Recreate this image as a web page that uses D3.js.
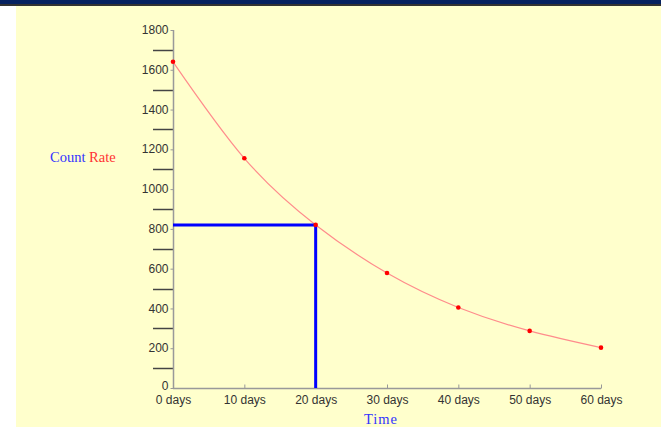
<!DOCTYPE html>
<html><head><meta charset="utf-8">
<script src="https://cdn.jsdelivr.net/npm/d3@7"></script>
<style>html,body{margin:0;padding:0;background:#fff;}svg{display:block;}</style>
</head><body>
<svg id="c" width="661" height="427"></svg>
<script>
const days = [0, 10, 20, 30, 40, 50, 60];
const countRate = [1640, 1155, 820, 578, 405, 287, 203];
const yTicks = [0, 200, 400, 600, 800, 1000, 1200, 1400, 1600, 1800];
const yMinorTicks = [100, 300, 500, 700, 900, 1100, 1300, 1500, 1700];
const xTickLabels = ["0 days","10 days","20 days","30 days","40 days","50 days","60 days"];
const halfLifeDay = 20;
const halfLifeValue = 820;

const svg = d3.select("#c");
svg.append("rect").attr("x",0).attr("y",0).attr("width",661).attr("height",427).attr("fill","#fff");
svg.append("rect").attr("x",16).attr("y",6).attr("width",645).attr("height",421).attr("fill","#ffffcc");
svg.append("rect").attr("x",0).attr("y",0).attr("width",661).attr("height",4).attr("fill","#062260");
svg.append("rect").attr("x",0).attr("y",4).attr("width",661).attr("height",2).attr("fill","#333");

const x = d3.scaleLinear().domain([0,60]).range([173,601]);
const y = d3.scaleLinear().domain([0,1800]).range([388,30]);

// minor ticks
svg.append("g").selectAll("line").data(yMinorTicks).join("line")
  .attr("x1",153).attr("x2",173).attr("y1",d=>Math.round(y(d))+0.5).attr("y2",d=>Math.round(y(d))+0.5)
  .attr("stroke","#444").attr("stroke-width",1.5);

const yAxis = svg.append("g").attr("transform","translate(173.5,0)")
  .call(d3.axisLeft(y).tickValues(yTicks).tickSize(3).tickPadding(2).tickFormat(d3.format("d")));
const xAxis = svg.append("g").attr("transform","translate(0,388.5)")
  .call(d3.axisBottom(x).tickValues(days).tickSize(0).tickPadding(7).tickFormat((d,i)=>xTickLabels[i]));
xAxis.selectAll(".tick").append("line").attr("y1",0).attr("y2",-4).attr("stroke","#999");
[yAxis,xAxis].forEach(a=>{
  a.select(".domain").attr("stroke","#999").attr("stroke-width",1.5);
  a.selectAll(".tick line").attr("stroke","#999");
  a.selectAll("text").attr("fill","#333").attr("font-family","Liberation Sans, Arial, sans-serif").attr("font-size","12px");
});
yAxis.selectAll("text").attr("dy","0.3em");
yAxis.selectAll(".tick").filter(d=>d===0).select("text").attr("dy","0.1em");
yAxis.select(".domain").attr("d","M0,30V388");
xAxis.select(".domain").attr("d","M173,0H601");

// curve
const pts = days.map((d,i)=>[d,countRate[i]]);
svg.append("path").datum(pts)
  .attr("d", d3.line().x(d=>x(d[0])).y(d=>y(d[1])).curve(d3.curveNatural))
  .attr("fill","none").attr("stroke","#ff8c8c").attr("stroke-width",1.2);

// half-life lines
svg.append("path")
  .attr("d",`M${x(0)},${y(halfLifeValue)}H${x(halfLifeDay)}V${y(0)}`)
  .attr("fill","none").attr("stroke","#0000ff").attr("stroke-width",3);

svg.append("g").selectAll("circle").data(pts).join("circle")
  .attr("cx",d=>x(d[0])).attr("cy",d=>y(d[1])).attr("r",2.3).attr("fill","#ff0000");

const lbl = svg.append("text").attr("x",50).attr("y",162)
  .attr("font-family","Liberation Serif, Times New Roman, serif").attr("font-size","14.5px");
lbl.append("tspan").attr("fill","#3333ff").text("Count ");
lbl.append("tspan").attr("fill","#ff3333").text("Rate");

svg.append("text").attr("x",381).attr("y",424).attr("text-anchor","middle")
  .attr("font-family","Liberation Serif, Times New Roman, serif").attr("font-size","14.5px")
  .attr("letter-spacing","1px")
  .attr("fill","#3333ff").text("Time");
</script>
</body></html>
